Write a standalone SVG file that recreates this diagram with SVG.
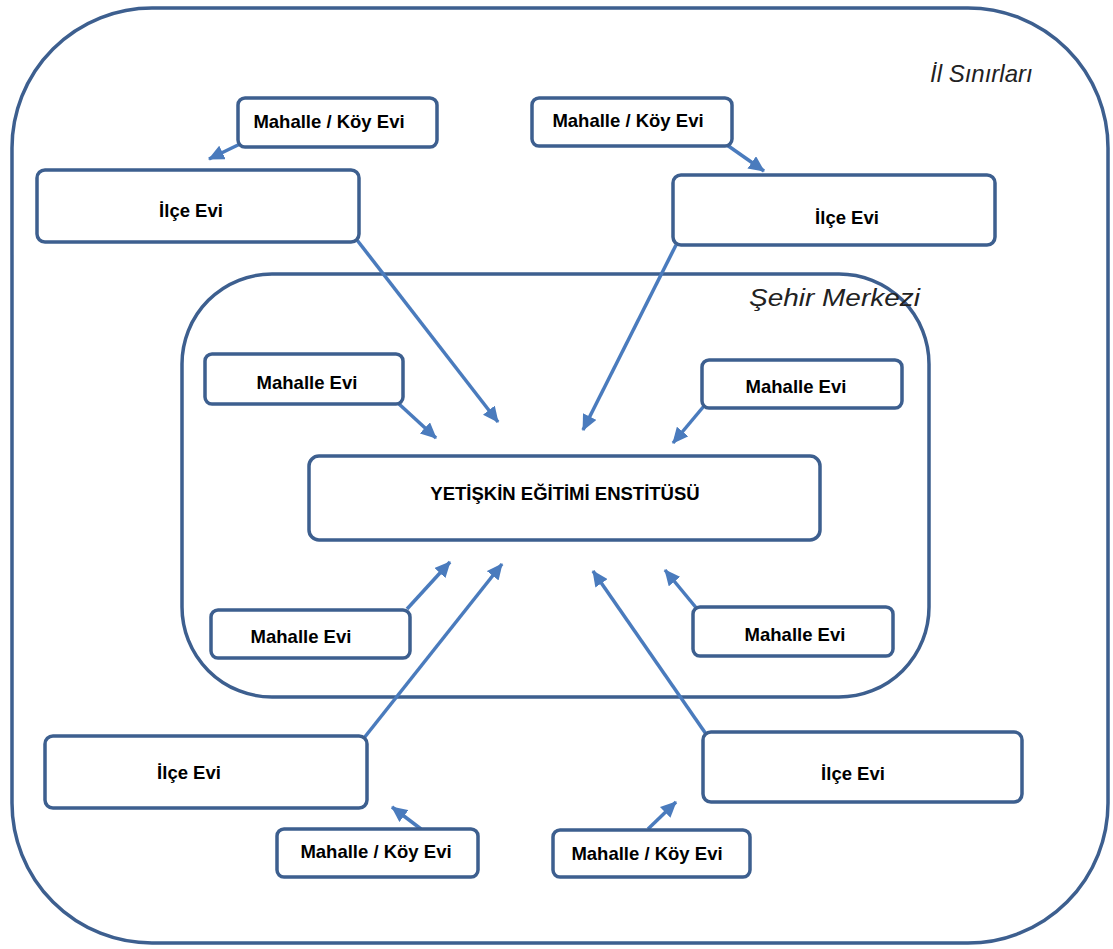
<svg xmlns="http://www.w3.org/2000/svg" width="1113" height="949" viewBox="0 0 1113 949">
  <defs>
    <style>
      .region { fill: none; stroke: #3d5f8f; stroke-width: 3.5; }
      .box { fill: #ffffff; stroke: #3d5f8f; stroke-width: 3.5; }
      .label { font-family: "Liberation Sans", Arial, sans-serif; font-weight: bold; font-size: 18.5px; fill: #000000; text-anchor: middle; }
      .area { font-family: "Liberation Sans", Arial, sans-serif; font-style: italic; font-size: 24px; fill: #222222; }
      .link { fill: none; stroke: #4a7bbd; stroke-width: 3.5; }
    </style>
    <marker id="head" viewBox="0 0 16 15" refX="15" refY="7.5" markerWidth="16" markerHeight="15" markerUnits="userSpaceOnUse" orient="auto">
      <path d="M0,0 L16,7.5 L0,15 Z" fill="#4a7bbd"/>
    </marker>
  </defs>

  <rect width="1113" height="949" fill="#ffffff"/>

  <!-- province boundary -->
  <g id="il-sinirlari">
    <rect class="region" x="12" y="8" width="1096" height="935" rx="140" ry="140"/>
    <text class="area" x="930" y="82">İl Sınırları</text>
  </g>

  <!-- city centre -->
  <g id="sehir-merkezi">
    <rect class="region" x="182" y="274" width="747" height="423" rx="90" ry="90"/>
    <text class="area" x="749" y="306" textLength="171" lengthAdjust="spacingAndGlyphs">Şehir Merkezi</text>
  </g>

  <g id="connectors">
    <line class="link" x1="240" y1="144" x2="209" y2="159" marker-end="url(#head)"/>
    <line class="link" x1="727" y1="145" x2="764" y2="171" marker-end="url(#head)"/>
    <line class="link" x1="357" y1="240" x2="498" y2="422" marker-end="url(#head)"/>
    <line class="link" x1="676" y1="245" x2="583" y2="430" marker-end="url(#head)"/>
    <line class="link" x1="399" y1="404" x2="436" y2="438" marker-end="url(#head)"/>
    <line class="link" x1="704" y1="406" x2="673" y2="443" marker-end="url(#head)"/>
    <line class="link" x1="407" y1="609" x2="450" y2="562" marker-end="url(#head)"/>
    <line class="link" x1="364" y1="738" x2="502" y2="564" marker-end="url(#head)"/>
    <line class="link" x1="698" y1="610" x2="665" y2="570" marker-end="url(#head)"/>
    <line class="link" x1="706" y1="734" x2="593" y2="571" marker-end="url(#head)"/>
    <line class="link" x1="421" y1="829" x2="392" y2="807" marker-end="url(#head)"/>
    <line class="link" x1="648" y1="829" x2="676" y2="802" marker-end="url(#head)"/>
  </g>

  <g id="mahalle-koy-evi-1">
    <rect class="box" x="238" y="98" width="199" height="49" rx="7"/>
    <text class="label" x="329" y="128">Mahalle / Köy Evi</text>
  </g>
  <g id="mahalle-koy-evi-2">
    <rect class="box" x="532" y="98" width="200" height="48" rx="7"/>
    <text class="label" x="628" y="127">Mahalle / Köy Evi</text>
  </g>
  <g id="ilce-evi-1">
    <rect class="box" x="37" y="170" width="322" height="72" rx="8"/>
    <text class="label" x="191" y="217">İlçe Evi</text>
  </g>
  <g id="ilce-evi-2">
    <rect class="box" x="673" y="175" width="322" height="70" rx="8"/>
    <text class="label" x="847" y="224">İlçe Evi</text>
  </g>
  <g id="mahalle-evi-1">
    <rect class="box" x="205" y="354" width="198" height="50" rx="7"/>
    <text class="label" x="307" y="389">Mahalle Evi</text>
  </g>
  <g id="mahalle-evi-2">
    <rect class="box" x="702" y="360" width="200" height="48" rx="7"/>
    <text class="label" x="796" y="393">Mahalle Evi</text>
  </g>
  <g id="yetiskin-egitimi-enstitusu">
    <rect class="box" x="309" y="456" width="511" height="84" rx="10"/>
    <text class="label" x="565" y="500">YETİŞKİN EĞİTİMİ ENSTİTÜSÜ</text>
  </g>
  <g id="mahalle-evi-3">
    <rect class="box" x="211" y="610" width="199" height="48" rx="7"/>
    <text class="label" x="301" y="643">Mahalle Evi</text>
  </g>
  <g id="mahalle-evi-4">
    <rect class="box" x="693" y="607" width="200" height="49" rx="7"/>
    <text class="label" x="795" y="641">Mahalle Evi</text>
  </g>
  <g id="ilce-evi-3">
    <rect class="box" x="45" y="736" width="322" height="72" rx="8"/>
    <text class="label" x="189" y="779">İlçe Evi</text>
  </g>
  <g id="ilce-evi-4">
    <rect class="box" x="703" y="732" width="319" height="70" rx="8"/>
    <text class="label" x="853" y="780">İlçe Evi</text>
  </g>
  <g id="mahalle-koy-evi-3">
    <rect class="box" x="277" y="829" width="201" height="48" rx="7"/>
    <text class="label" x="376" y="858">Mahalle / Köy Evi</text>
  </g>
  <g id="mahalle-koy-evi-4">
    <rect class="box" x="553" y="830" width="197" height="47" rx="7"/>
    <text class="label" x="647" y="860">Mahalle / Köy Evi</text>
  </g>
</svg>
